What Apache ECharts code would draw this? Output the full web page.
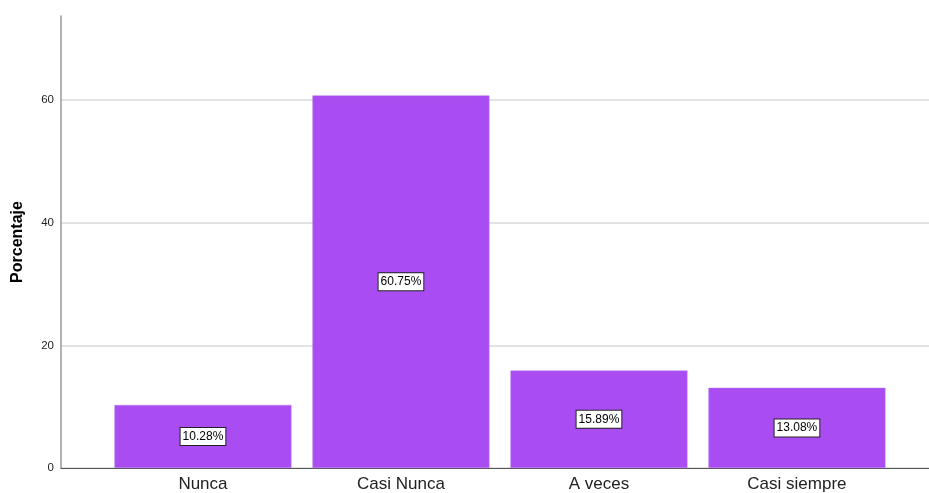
<!DOCTYPE html>
<html>
<head>
<meta charset="utf-8">
<script src="https://cdn.jsdelivr.net/npm/echarts@6/dist/echarts.min.js"></script>
<style>
  html, body { margin: 0; padding: 0; background: #fff; }
  #chart { width: 929px; height: 493px; }
</style>
</head>
<body>
<div id="chart"></div>
<script>
// categories and percentages
const categories = ["Nunca", "Casi Nunca", "A veces", "Casi siempre"];
const porcentajes = [10.28, 60.75, 15.89, 13.08];

const chart = echarts.init(document.getElementById("chart"));
chart.setOption({
  animation: false,
  grid: {
    left: 61,
    right: 0,
    top: 16,
    bottom: 25
  },
  xAxis: {
    type: "value",
    min: 0.283,
    max: 4.667,
    axisLine: {
      show: true,
      onZero: false,
      lineStyle: { color: "#555", width: 1 }
    },
    axisTick: { show: false },
    splitLine: { show: false },
    axisLabel: {
      customValues: [1, 2, 3, 4],
      formatter: function (v) {
        return categories[Math.round(v) - 1] || "";
      },
      color: "#222",
      fontSize: 17,
      fontFamily: "Liberation Sans, Arial, sans-serif",
      margin: 8
    }
  },
  yAxis: {
    type: "value",
    min: 0,
    max: 73.7,
    interval: 20,
    name: "Porcentaje",
    nameLocation: "middle",
    nameGap: 35,
    nameTextStyle: {
      color: "#000",
      fontSize: 16,
      fontWeight: "bold",
      fontFamily: "Liberation Sans, Arial, sans-serif"
    },
    axisLine: {
      show: true,
      lineStyle: { color: "#999", width: 1.5 }
    },
    axisTick: { show: false },
    axisLabel: {
      showMaxLabel: false,
      color: "#222",
      fontSize: 11.5,
      fontFamily: "Liberation Sans, Arial, sans-serif",
      margin: 7
    },
    splitLine: {
      show: true,
      lineStyle: {
        // last entry hides the line at the top of the axis
        color: ["#d9d9d9", "#d9d9d9", "#d9d9d9", "#d9d9d9", "rgba(0,0,0,0)"],
        width: 1.5
      }
    }
  },
  series: [
    {
      type: "bar",
      barWidth: 177,
      itemStyle: {
        color: "#a94cf2",
        borderColor: "#b97bf2",
        borderWidth: 0.5
      },
      label: {
        show: true,
        position: "inside",
        formatter: function (p) {
          return p.value[1].toFixed(2) + "%";
        },
        color: "#000",
        fontSize: 12,
        fontFamily: "Liberation Sans, Arial, sans-serif",
        backgroundColor: "#fff",
        borderColor: "#222",
        borderWidth: 1,
        padding: [3, 2, 2, 2]
      },
      data: porcentajes.map((v, i) => [i + 1, v])
    }
  ]
});
</script>
</body>
</html>
